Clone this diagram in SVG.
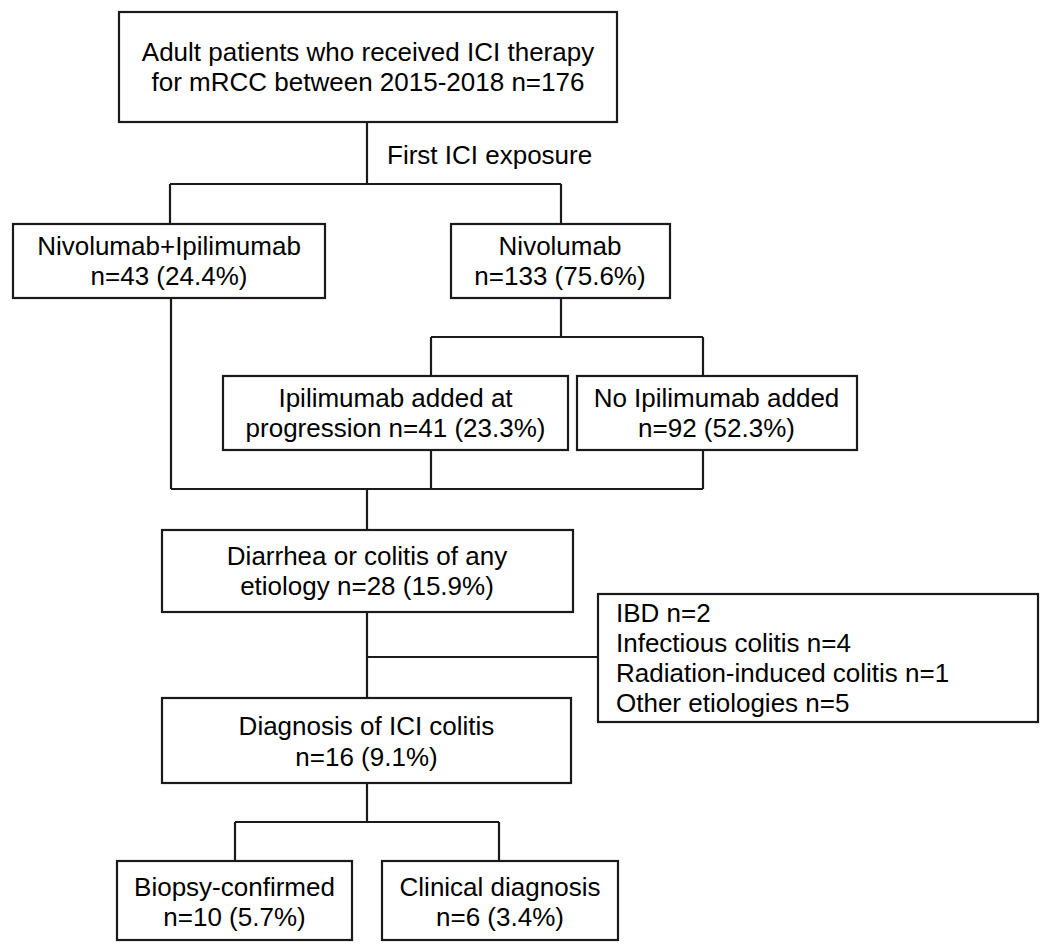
<svg xmlns="http://www.w3.org/2000/svg" width="1050" height="952" viewBox="0 0 1050 952">
<style>
.box{fill:#fff;stroke:#1a1a1a;stroke-width:2.2}
.ln{fill:none;stroke:#1a1a1a;stroke-width:2.2}
text{font-family:"Liberation Sans",Arial,sans-serif;font-size:26px;fill:#000}
.c{text-anchor:middle}
</style>
<rect width="1050" height="952" fill="#fff"/>
<g id="connectors">
<path class="ln" d="M367,122 V184 M170,184 H561 M170,184 V224 M561,184 V224"/>
<path class="ln" d="M171,298 V489 M561,298 V337 M431,337 H703 M431,337 V376 M703,337 V376"/>
<path class="ln" d="M431,450 V489 M703,450 V489 M171,489 H703 M367,489 V530"/>
<path class="ln" d="M367,612 V698 M367,657 H598"/>
<path class="ln" d="M367,783 V822 M235,822 H499 M235,822 V861 M499,822 V861"/>
</g>
<g id="n-top">
<rect class="box" x="119" y="12" width="498" height="110"/>
<text class="c" x="368" y="61">Adult patients who received ICI therapy</text>
<text class="c" x="368" y="91">for mRCC between 2015-2018 n=176</text>
</g>
<g id="l-first">
<text x="387" y="164">First ICI exposure</text>
</g>
<g id="n-nivoipi">
<rect class="box" x="13" y="224" width="312" height="74"/>
<text class="c" x="169" y="255">Nivolumab+Ipilimumab</text>
<text class="c" x="169" y="285">n=43 (24.4%)</text>
</g>
<g id="n-nivo">
<rect class="box" x="451" y="224" width="219" height="74"/>
<text class="c" x="560" y="255">Nivolumab</text>
<text class="c" x="560" y="285">n=133 (75.6%)</text>
</g>
<g id="n-ipiadded">
<rect class="box" x="223" y="376" width="345" height="74"/>
<text class="c" x="395.5" y="407">Ipilimumab added at</text>
<text class="c" x="395.5" y="437">progression n=41 (23.3%)</text>
</g>
<g id="n-noipi">
<rect class="box" x="577" y="376" width="280" height="74"/>
<text class="c" x="716.5" y="407">No Ipilimumab added</text>
<text class="c" x="716.5" y="437">n=92 (52.3%)</text>
</g>
<g id="n-diarrhea">
<rect class="box" x="162" y="530" width="411" height="82"/>
<text class="c" x="367" y="565">Diarrhea or colitis of any</text>
<text class="c" x="367" y="595">etiology n=28 (15.9%)</text>
</g>
<g id="n-other">
<rect class="box" x="598" y="594" width="440" height="128"/>
<text x="616" y="622">IBD n=2</text>
<text x="616" y="652">Infectious colitis n=4</text>
<text x="616" y="682">Radiation-induced colitis n=1</text>
<text x="616" y="712">Other etiologies n=5</text>
</g>
<g id="n-ici">
<rect class="box" x="162" y="698" width="409" height="85"/>
<text class="c" x="366.5" y="735">Diagnosis of ICI colitis</text>
<text class="c" x="366.5" y="766">n=16 (9.1%)</text>
</g>
<g id="n-biopsy">
<rect class="box" x="117" y="861" width="235" height="79"/>
<text class="c" x="234.5" y="896">Biopsy-confirmed</text>
<text class="c" x="234.5" y="926">n=10 (5.7%)</text>
</g>
<g id="n-clinical">
<rect class="box" x="382" y="861" width="236" height="79"/>
<text class="c" x="500" y="896">Clinical diagnosis</text>
<text class="c" x="500" y="926">n=6 (3.4%)</text>
</g>
</svg>
